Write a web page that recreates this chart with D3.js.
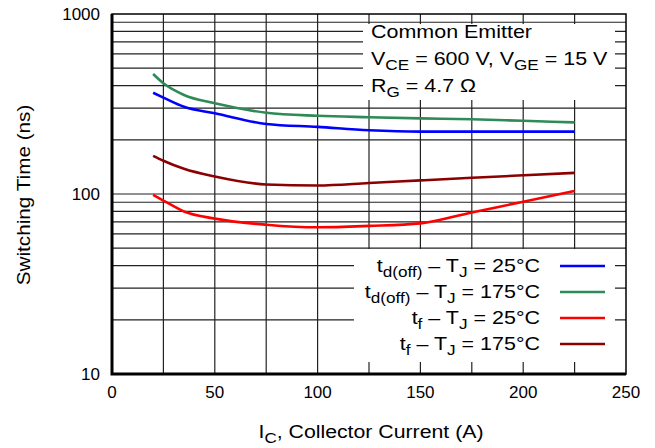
<!DOCTYPE html>
<html>
<head>
<meta charset="utf-8">
<script src="https://cdn.jsdelivr.net/npm/d3@7"></script>
<style>
  body { margin: 0; background: #fff; }
  svg { display: block; font-family: "Liberation Sans", Arial, sans-serif; }
</style>
</head>
<body>
<div id="chart"></div>
<script>
// collector current (A) and switching times (ns)
const current = [20, 25, 35, 50, 75, 100, 125, 150, 175, 200, 225];
const tdOff25 = [365, 343, 305, 281, 245, 236, 226, 222, 222, 222, 222];
const tdOff175 = [464, 412, 355, 319, 283, 272, 267, 263, 260, 255, 250];
const tf25 = [99, 92, 80, 73, 67.5, 65.3, 66.5, 68.7, 79, 90.5, 104];
const tf175 = [163, 153, 138, 125, 113, 111.5, 115, 119, 123, 127, 131];

const xTicks = [0, 50, 100, 150, 200, 250];
const yTicks = [10, 100, 1000];

// legend labels: [text, isSubscript]
const legendLabels = [
  [["t", 0], ["d(off)", 1], [" \u2013 T", 0], ["J", 1], [" = 25\u00b0C", 0]],
  [["t", 0], ["d(off)", 1], [" \u2013 T", 0], ["J", 1], [" = 175\u00b0C", 0]],
  [["t", 0], ["f", 1], [" \u2013 T", 0], ["J", 1], [" = 25\u00b0C", 0]],
  [["t", 0], ["f", 1], [" \u2013 T", 0], ["J", 1], [" = 175\u00b0C", 0]]
];
const seriesColors = ["#0000ff", "#2e8b57", "#ff0000", "#8b0000"];
const seriesValues = [tdOff25, tdOff175, tf25, tf175];

const noteLines = [
  [["Common Emitter", 0]],
  [["V", 0], ["CE", 1], [" = 600 V, V", 0], ["GE", 1], [" = 15 V", 0]],
  [["R", 0], ["G", 1], [" = 4.7 \u03a9", 0]]
];

const W = 655, H = 448;
const pL = 112, pR = 626, pT = 14, pB = 374;

const x = d3.scaleLinear().domain([0, 250]).range([pL, pR]);
const y = d3.scaleLog().domain([10, 1000]).range([pB, pT]);

const svg = d3.select("#chart").append("svg")
  .attr("width", W)
  .attr("height", H);

// text with subscripts, a bit stretched sideways like the original
function richText(tx, ty, parts, size, sx, anchor) {
  const t = svg.append("text")
    .attr("transform", `translate(${tx},${ty}) scale(${sx},1)`)
    .attr("text-anchor", anchor || "start")
    .attr("font-size", size);
  let wasSub = false;
  parts.forEach(([s, sub]) => {
    const ts = t.append("tspan").text(s);
    if (sub && !wasSub) ts.attr("dy", size * 0.28).attr("font-size", size * 0.8);
    else if (sub) ts.attr("font-size", size * 0.8);
    else if (wasSub) ts.attr("dy", -size * 0.28);
    wasSub = !!sub;
  });
  return t;
}

// grid
const grid = svg.append("g").attr("stroke", "#222").attr("stroke-width", 1.2);
grid.selectAll(".vg")
  .data(d3.range(25, 250, 25))
  .enter().append("line")
  .attr("x1", d => x(d)).attr("x2", d => x(d))
  .attr("y1", pT).attr("y2", pB);
grid.selectAll(".hg")
  .data(y.ticks().filter(d => d > 10 && d < 1000))
  .enter().append("line")
  .attr("x1", pL).attr("x2", pR)
  .attr("y1", d => y(d)).attr("y2", d => y(d));

// white boxes behind the note and the legend
svg.append("rect").attr("x", 363).attr("y", 24).attr("width", 252).attr("height", 76).attr("fill", "#fff");
svg.append("rect").attr("x", 354).attr("y", 249).attr("width", 261).attr("height", 113).attr("fill", "#fff");

// curves
const line = d3.line()
  .x((d, i) => x(current[i]))
  .y(d => y(d))
  .curve(d3.curveMonotoneX);

svg.selectAll(".curve")
  .data(seriesValues)
  .enter().append("path")
  .attr("d", line)
  .attr("fill", "none")
  .attr("stroke", (d, i) => seriesColors[i])
  .attr("stroke-width", 2.6);

// frame
svg.append("rect")
  .attr("x", pL).attr("y", pT)
  .attr("width", pR - pL).attr("height", pB - pT)
  .attr("fill", "none").attr("stroke", "#000").attr("stroke-width", 1.5);
svg.append("path")
  .attr("d", `M${pL},${pT}V${pB}H${pR}`)
  .attr("fill", "none").attr("stroke", "#000").attr("stroke-width", 3);

// tick labels
svg.selectAll(".yt")
  .data(yTicks)
  .enter().append("text")
  .attr("x", pL - 12)
  .attr("y", d => y(d))
  .attr("dy", "0.36em")
  .attr("text-anchor", "end")
  .attr("font-size", 17)
  .text(d => d);

svg.selectAll(".xt")
  .data(xTicks)
  .enter().append("text")
  .attr("x", d => x(d))
  .attr("y", pB + 24)
  .attr("text-anchor", "middle")
  .attr("font-size", 17)
  .text(d => d);

// axis titles
svg.append("text")
  .attr("transform", "translate(30,195) rotate(-90) scale(1.09,1)")
  .attr("text-anchor", "middle")
  .attr("font-size", 19)
  .text("Switching Time (ns)");

richText(371, 438, [["I", 0], ["C", 1], [", Collector Current (A)", 0]], 19, 1.12, "middle");

// note
noteLines.forEach((parts, i) => {
  richText(371, 38 + i * 27, parts, 19, 1.13);
});

// legend
legendLabels.forEach((parts, i) => {
  const cy = 266 + i * 26;
  richText(540, cy + 6, parts, 19, 1.13, "end");
  svg.append("line")
    .attr("x1", 560).attr("x2", 605)
    .attr("y1", cy).attr("y2", cy)
    .attr("stroke", seriesColors[i])
    .attr("stroke-width", 2.6);
});
</script>
</body>
</html>
